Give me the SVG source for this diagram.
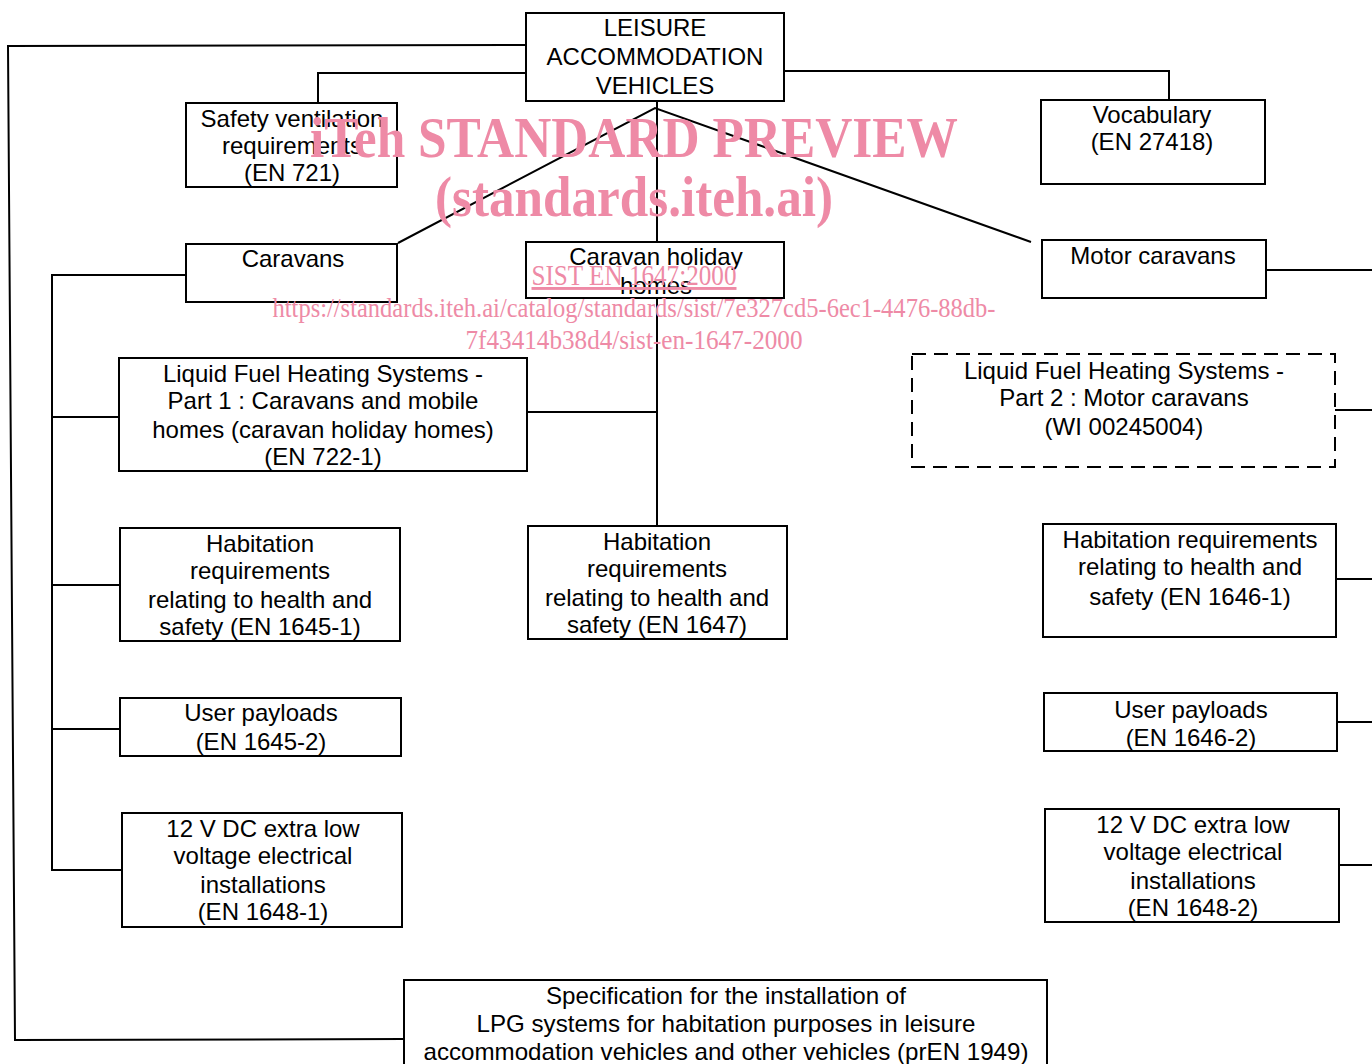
<svg xmlns="http://www.w3.org/2000/svg" width="1372" height="1064" viewBox="0 0 1372 1064">
<style>
.box{fill:#fff;stroke:#000;stroke-width:2}
.dash{fill:#fff;stroke:#000;stroke-width:2;stroke-dasharray:14 8}
.t{font-family:"Liberation Sans",Arial,sans-serif;font-size:24px;fill:#000;text-anchor:middle}
.c{fill:none;stroke:#000;stroke-width:2}
.wm{font-family:"Liberation Serif","Times New Roman",serif;fill:#EE8AA6;text-anchor:middle}
</style>
<rect width="1372" height="1064" fill="#fff"/>
<g id="connectors">
<path class="c" d="M526 45 L8 46 L15 1040 L404 1039"/>
<path class="c" d="M526 73 H318 V103"/>
<path class="c" d="M784 71 H1169 V100"/>
<path class="c" d="M398 243 L655 108 L1031 242"/>
<path class="c" d="M657 101 V242"/>
<path class="c" d="M657 298 V526"/>
<path class="c" d="M527 412 H657"/>
<path class="c" d="M186 275 H52 V870 H122"/>
<path class="c" d="M52 417 H119"/>
<path class="c" d="M52 585 H120"/>
<path class="c" d="M52 729 H120"/>
<path class="c" d="M1266 270 H1372"/>
<path class="c" d="M1335 410 H1372"/>
<path class="c" d="M1336 579 H1372"/>
<path class="c" d="M1337 722 H1372"/>
<path class="c" d="M1339 865 H1372"/>
</g>
<g id="leisure"><rect class="box" x="526" y="13" width="258" height="88"/>
<text class="t" x="655" y="36">LEISURE</text><text class="t" x="655" y="65">ACCOMMODATION</text><text class="t" x="655" y="94">VEHICLES</text></g>
<g id="safety"><rect class="box" x="186" y="103" width="211" height="84"/>
<text class="t" x="292" y="127">Safety ventilation</text><text class="t" x="292" y="154">requirements</text><text class="t" x="292" y="181">(EN 721)</text></g>
<g id="vocabulary"><rect class="box" x="1041" y="100" width="224" height="84"/>
<text class="t" x="1152" y="123">Vocabulary</text><text class="t" x="1152" y="150">(EN 27418)</text></g>
<g id="caravans"><rect class="box" x="186" y="244" width="211" height="58"/>
<text class="t" x="293" y="267">Caravans</text></g>
<g id="holiday"><rect class="box" x="526" y="242" width="258" height="56"/>
<text class="t" x="656" y="265">Caravan holiday</text><text class="t" x="656" y="294">homes</text></g>
<g id="motor"><rect class="box" x="1042" y="240" width="224" height="58"/>
<text class="t" x="1153" y="264">Motor caravans</text></g>
<g id="lfh1"><rect class="box" x="119" y="358" width="408" height="113"/>
<text class="t" x="323" y="382">Liquid Fuel Heating Systems -</text><text class="t" x="323" y="409">Part 1 : Caravans and mobile</text><text class="t" x="323" y="438">homes (caravan holiday homes)</text><text class="t" x="323" y="465">(EN 722-1)</text></g>
<g id="lfh2"><rect class="dash" x="912" y="354" width="423" height="113"/>
<text class="t" x="1124" y="379">Liquid Fuel Heating Systems -</text><text class="t" x="1124" y="406">Part 2 : Motor caravans</text><text class="t" x="1124" y="435">(WI 00245004)</text></g>
<g id="hab1"><rect class="box" x="120" y="528" width="280" height="113"/>
<text class="t" x="260" y="552">Habitation</text><text class="t" x="260" y="579">requirements</text><text class="t" x="260" y="608">relating to health and</text><text class="t" x="260" y="635">safety (EN 1645-1)</text></g>
<g id="hab2"><rect class="box" x="528" y="526" width="259" height="113"/>
<text class="t" x="657" y="550">Habitation</text><text class="t" x="657" y="577">requirements</text><text class="t" x="657" y="606">relating to health and</text><text class="t" x="657" y="633">safety (EN 1647)</text></g>
<g id="hab3"><rect class="box" x="1043" y="524" width="293" height="113"/>
<text class="t" x="1190" y="548">Habitation requirements</text><text class="t" x="1190" y="575">relating to health and</text><text class="t" x="1190" y="605">safety (EN 1646-1)</text></g>
<g id="user1"><rect class="box" x="120" y="698" width="281" height="58"/>
<text class="t" x="261" y="721">User payloads</text><text class="t" x="261" y="750">(EN 1645-2)</text></g>
<g id="user2"><rect class="box" x="1044" y="693" width="293" height="58"/>
<text class="t" x="1191" y="718">User payloads</text><text class="t" x="1191" y="746">(EN 1646-2)</text></g>
<g id="v12a"><rect class="box" x="122" y="813" width="280" height="114"/>
<text class="t" x="263" y="837">12 V DC extra low</text><text class="t" x="263" y="864">voltage electrical</text><text class="t" x="263" y="893">installations</text><text class="t" x="263" y="920">(EN 1648-1)</text></g>
<g id="v12b"><rect class="box" x="1045" y="809" width="294" height="113"/>
<text class="t" x="1193" y="833">12 V DC extra low</text><text class="t" x="1193" y="860">voltage electrical</text><text class="t" x="1193" y="889">installations</text><text class="t" x="1193" y="916">(EN 1648-2)</text></g>
<g id="lpg"><rect class="box" x="404" y="980" width="643" height="100"/>
<text class="t" x="726" y="1004" textLength="360" lengthAdjust="spacingAndGlyphs">Specification for the installation of</text>
<text class="t" x="726" y="1032" textLength="499" lengthAdjust="spacingAndGlyphs">LPG systems for habitation purposes in leisure</text>
<text class="t" x="726" y="1060" textLength="605" lengthAdjust="spacingAndGlyphs">accommodation vehicles and other vehicles (prEN 1949)</text></g>
<g id="watermark">
<text class="wm" x="634" y="157" font-size="58" font-weight="bold" textLength="648" lengthAdjust="spacingAndGlyphs">iTeh STANDARD PREVIEW</text>
<text class="wm" x="634" y="216" font-size="58" font-weight="bold" textLength="398" lengthAdjust="spacingAndGlyphs">(standards.iteh.ai)</text>
<text class="wm" x="634" y="285" font-size="29" text-decoration="underline" textLength="205" lengthAdjust="spacingAndGlyphs">SIST EN 1647:2000</text>
<text class="wm" x="634" y="317" font-size="28" textLength="723" lengthAdjust="spacingAndGlyphs">https://standards.iteh.ai/catalog/standards/sist/7e327cd5-6ec1-4476-88db-</text>
<text class="wm" x="634" y="349" font-size="28" textLength="337" lengthAdjust="spacingAndGlyphs">7f43414b38d4/sist-en-1647-2000</text>
</g>
</svg>
